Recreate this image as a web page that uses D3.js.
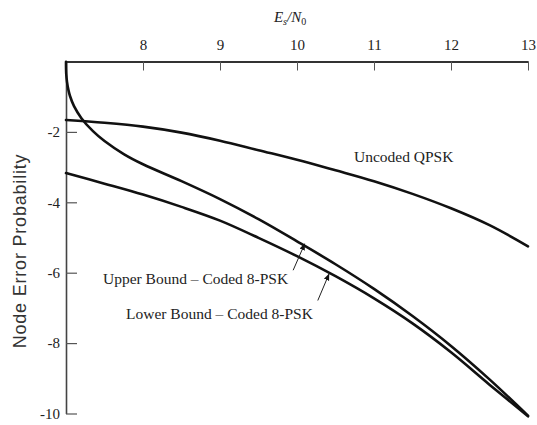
<!DOCTYPE html>
<html>
<head>
<meta charset="utf-8">
<script src="https://cdn.jsdelivr.net/npm/d3@7/dist/d3.min.js"></script>
<style>
  html, body { margin: 0; padding: 0; background: #fff; }
  svg { display: block; }
  .serif { font-family: "Liberation Serif", "Times New Roman", serif; fill: #222; }
</style>
</head>
<body>
<svg id="chart" width="537" height="425"></svg>
<script>
// Es/N0 (dB) sample points and log10 of the node error probability
const snrGrid = [7, 7.5, 8, 8.5, 9, 9.5, 10, 10.5, 11, 11.5, 12, 12.5, 13];
const uncodedQpsk = [-1.66, -1.74, -1.85, -2.02, -2.25, -2.52, -2.79, -3.09, -3.40, -3.76, -4.17, -4.65, -5.25];

const upperSnr = [7, 7.0008, 7.0033, 7.013, 7.0325, 7.052, 7.104, 7.2, 7.35, 7.5, 7.75, 8, 8.5, 9, 9.5, 10, 10.5, 11, 11.5, 12, 12.5, 13];
const upperBound8psk = [-0.01, -0.21, -0.36, -0.58, -0.82, -0.98, -1.27, -1.61, -1.98, -2.26, -2.63, -2.92, -3.40, -3.91, -4.48, -5.11, -5.76, -6.46, -7.23, -8.08, -9.03, -10.06];

const lowerBound8psk = [-3.17, -3.47, -3.78, -4.13, -4.52, -5.01, -5.53, -6.10, -6.73, -7.44, -8.26, -9.18, -10.08];

const xTicks = [8, 9, 10, 11, 12, 13];
const yTicks = [-2, -4, -6, -8, -10];

const svg = d3.select("#chart");
const x = d3.scaleLinear().domain([7, 13]).range([66, 528]);
const y = d3.scaleLinear().domain([0, -10]).range([61.5, 413.5]);

// arrowhead marker
svg.append("defs").append("marker")
  .attr("id", "arrowhead")
  .attr("viewBox", "0 0 10 10")
  .attr("refX", 9).attr("refY", 5)
  .attr("markerWidth", 7).attr("markerHeight", 7)
  .attr("markerUnits", "userSpaceOnUse")
  .attr("orient", "auto")
  .append("path").attr("d", "M0,1 L10,5 L0,9 Z").attr("fill", "#111");

// top axis
const topAxis = svg.append("g")
  .attr("transform", `translate(0,${y(0)})`)
  .call(d3.axisTop(x).tickValues(xTicks).tickSizeInner(-9).tickSizeOuter(0).tickPadding(12).tickFormat(d3.format("d")));
topAxis.select(".domain").attr("stroke", "#333").attr("stroke-width", 2);
topAxis.selectAll(".tick line").attr("stroke", "#555").attr("stroke-width", 1);
topAxis.selectAll(".tick text").attr("class", "serif").style("font-size", "15px");

// left axis
const leftAxis = svg.append("g")
  .attr("transform", `translate(${x(7)},0)`)
  .call(d3.axisLeft(y).tickValues(yTicks).tickSizeInner(-11).tickSizeOuter(0).tickPadding(6).tickFormat(d => String(d)));
leftAxis.select(".domain").attr("stroke", "#444").attr("stroke-width", 1.6);
leftAxis.selectAll(".tick line").attr("stroke", "#555").attr("stroke-width", 1.2);
leftAxis.selectAll(".tick text").attr("class", "serif").style("font-size", "15px");

// x axis title: Es/N0
const xt = svg.append("text").attr("class", "serif")
  .attr("x", x(9.91)).attr("y", 22)
  .attr("text-anchor", "middle")
  .style("font-size", "15px").style("font-style", "italic");
xt.append("tspan").text("E");
xt.append("tspan").attr("baseline-shift", "-25%").style("font-size", "10px").text("s");
xt.append("tspan").text("/N");
xt.append("tspan").attr("baseline-shift", "-25%").style("font-size", "10px").style("font-style", "normal").text("0");

// y axis title
svg.append("text")
  .attr("transform", `translate(26,${251}) rotate(-90)`)
  .attr("text-anchor", "middle")
  .style("font-family", "'Liberation Sans', Arial, sans-serif")
  .style("font-size", "18px")
  .style("letter-spacing", "0.8px")
  .style("fill", "#333")
  .text("Node Error Probability");

// curves
const line = d3.line().x(d => x(d[0])).y(d => y(d[1])).curve(d3.curveCatmullRom.alpha(0.5));
const series = [
  d3.zip(snrGrid, uncodedQpsk),
  d3.zip(upperSnr, upperBound8psk),
  d3.zip(snrGrid, lowerBound8psk)
];
svg.append("g").selectAll("path").data(series).join("path")
  .attr("d", line)
  .attr("fill", "none")
  .attr("stroke", "#111")
  .attr("stroke-width", 2.6)
  .attr("stroke-linecap", "round");

// curve labels
const labels = [
  { text: "Uncoded QPSK", sx: 10.74, sy: -2.86 },
  { text: "Upper Bound \u2013 Coded 8-PSK", sx: 7.48, sy: -6.32 },
  { text: "Lower Bound \u2013 Coded 8-PSK", sx: 7.78, sy: -7.32 }
];
svg.append("g").selectAll("text").data(labels).join("text")
  .attr("class", "serif")
  .attr("x", d => x(d.sx)).attr("y", d => y(d.sy))
  .style("font-size", "15.5px")
  .text(d => d.text);

// pointer arrows from labels to curves
const arrows = [
  { x1: 9.95, y1: -5.93, x2: 10.10, y2: -5.18 },
  { x1: 10.27, y1: -6.79, x2: 10.415, y2: -6.04 }
];
svg.append("g").selectAll("line").data(arrows).join("line")
  .attr("x1", d => x(d.x1)).attr("y1", d => y(d.y1))
  .attr("x2", d => x(d.x2)).attr("y2", d => y(d.y2))
  .attr("stroke", "#222").attr("stroke-width", 1)
  .attr("marker-end", "url(#arrowhead)");
</script>
</body>
</html>
